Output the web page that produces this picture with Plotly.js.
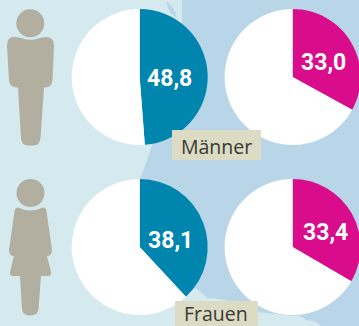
<!DOCTYPE html>
<html>
<head>
<meta charset="utf-8">
<script src="https://cdn.plot.ly/plotly-3.0.1.min.js"></script>
<style>html,body{margin:0;padding:0;overflow:hidden;width:359px;height:326px;background:#d5eaef}</style>
</head>
<body>
<div id="chart"></div>
<script>
var groups = ['Männer', 'Frauen'];
var blueValues = [48.8, 38.1];
var pinkValues = [33.0, 33.4];
var blueLabels = ['48,8', '38,1'];
var pinkLabels = ['33,0', '33,4'];

var W = 362, H = 326, R = 68;
var BG = '#d5eaef', MAP = '#b9d5e8', BLUE = '#0085ae', PINK = '#d90d8c', FIG = '#b2afa0', BOX = '#dcdbc4';
var cx = [139.7, 292.6], cy = [77, 247];

function px(x) { return x / W; }
function py(y) { return 1 - y / H; }
function path(d) {
  var isX = true;
  return d.replace(/-?\d+(\.\d+)?/g, function (m) {
    var v = isX ? px(+m) : py(+m);
    isX = !isX;
    return v.toFixed(5);
  });
}
function pie(v, col, c, row) {
  return {
    type: 'pie', values: [v, 100 - v], sort: false, direction: 'clockwise', rotation: 0,
    marker: { colors: [col, '#ffffff'], line: { width: 0 } },
    textinfo: 'none', hoverinfo: 'none', showlegend: false,
    domain: { x: [px(cx[c] - R), px(cx[c] + R)], y: [py(cy[row] + R), py(cy[row] - R)] }
  };
}
var traces = [
  pie(blueValues[0], BLUE, 0, 0), pie(pinkValues[0], PINK, 1, 0),
  pie(blueValues[1], BLUE, 0, 1), pie(pinkValues[1], PINK, 1, 1)
];

function shape(d, col, layer) {
  return { type: 'path', xref: 'paper', yref: 'paper', path: path(d), fillcolor: col, line: { width: 0 }, layer: layer || 'below' };
}
function circle(x, y, r, col) {
  return { type: 'circle', xref: 'paper', yref: 'paper', x0: px(x - r), x1: px(x + r), y0: py(y + r), y1: py(y - r), fillcolor: col, line: { width: 0 }, layer: 'below' };
}
var mapPath = 'M182,0 L362,0 L362,326 L321,326 Q318,321 306,320 Q300,315 293,316 L240,310 L225,300 Q215,298 207,298 Q200,290 193,287 L180,270 L140,179 L146,163 L152,145 L150,130 L170,60 L182,40 Z';
var leafPath = 'M166,1 Q176,8 176.5,18 Q169,14 166,1 Z';
var manPath = 'M14,37 Q7,37 7,46 L9,80 Q9.5,87.5 17,87.5 L18,87.5 L21,138 Q21.5,145.5 28,145.5 L33,145.5 Q40,145.5 40.5,138 L44,87.5 L45,87.5 Q52,87.5 52.5,80 L54,46 Q54,37 46,37 Q42,37 38,38.5 Q30,41 23,38.5 Q19,37 14,37 Z';
var womanPath = 'M18,207.5 Q15,207.5 14.5,211 L9,250 Q9,255 13,256 L14,256 L10,272 Q9.5,276 13,276 L20,276 L22,309 Q22.5,315.5 30,315.5 Q38,315.5 38.5,309 L41,276 L48,276 Q51.5,276 51,272 L47,256 L48,256 Q52,255 52,250 L46.5,211 Q46,207.5 43,207.5 Q38,210 30.5,210.5 Q23,210 18,207.5 Z';

var shapes = [
  shape(mapPath, MAP), shape(leafPath, MAP),
  circle(30.3, 23.3, 14, FIG), shape(manPath, FIG),
  circle(30.5, 193, 14, FIG), shape(womanPath, FIG),
  { type: 'rect', xref: 'paper', yref: 'paper', x0: px(172), x1: px(261), y0: py(160), y1: py(130), fillcolor: BOX, line: { width: 0 }, layer: 'above' },
  { type: 'rect', xref: 'paper', yref: 'paper', x0: px(175), x1: px(258), y0: py(326), y1: py(301), fillcolor: BOX, line: { width: 0 }, layer: 'above' }
];

function label(t, x, y) {
  return { text: '<b>' + t + '</b>', xref: 'paper', yref: 'paper', x: px(x), y: py(y), xanchor: 'center', yanchor: 'middle', showarrow: false,
    font: { family: 'Roboto, sans-serif', size: 23, color: '#ffffff' } };
}
function tag(t, x, y) {
  return { text: t, xref: 'paper', yref: 'paper', x: px(x), y: py(y), xanchor: 'center', yanchor: 'middle', showarrow: false,
    font: { family: '"Open Sans", sans-serif', size: 19.5, color: '#3a3a36' } };
}
var annotations = [
  label(blueLabels[0], 169, 79), label(pinkLabels[0], 323, 62),
  label(blueLabels[1], 170, 241), label(pinkLabels[1], 325, 232),
  tag(groups[0], 216.5, 146.5), tag(groups[1], 216, 313)
];

Plotly.newPlot('chart', traces, {
  width: W, height: H,
  margin: { l: 0, r: 0, t: 0, b: 0, pad: 0 },
  paper_bgcolor: BG, plot_bgcolor: BG,
  shapes: shapes, annotations: annotations
}, { displayModeBar: false, responsive: false });
</script>
</body>
</html>
